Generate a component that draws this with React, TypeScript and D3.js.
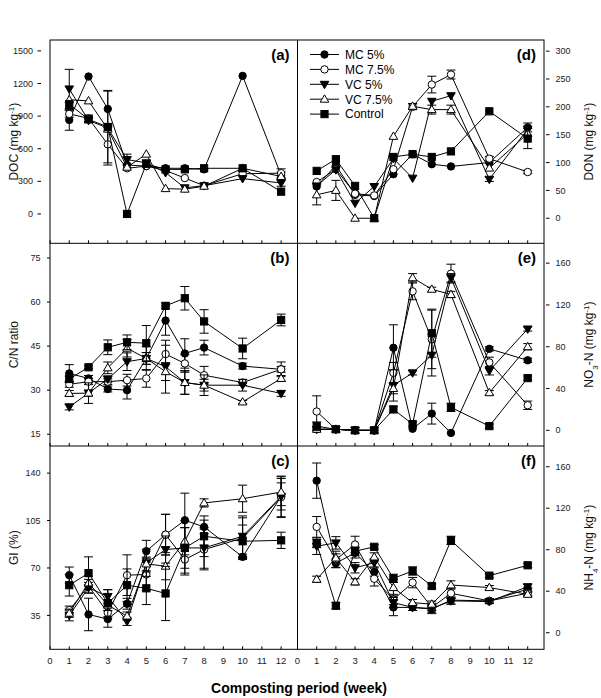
import React from 'react';
import * as d3 from 'd3';

// ---------- data ----------
const weeks = [1, 2, 3, 4, 5, 6, 7, 8, 10, 12];
const xTickValues = [0, 1, 2, 3, 4, 5, 6, 7, 8, 9, 10, 11, 12];
const seriesNames = ['MC 5%', 'MC 7.5%', 'VC 5%', 'VC 7.5%', 'Control'];
const markerTypes = ['circleFilled', 'circleOpen', 'triDownFilled', 'triUpOpen', 'squareFilled'];

// (a) DOC
const docMC5 = [865, 1264, 966, 450, 440, 420, 420, 410, 1270, 355];
const docMC75 = [920, 880, 640, 420, 440, 400, 330, 260, 370, 375];
const docVC5 = [1150, 860, 790, 500, 470, 380, 240, 260, 325, 285];
const docVC75 = [1050, 1040, 780, 430, 550, 233, 228, 255, 420, 345];
const docCtrl = [1010, 870, 800, 0, 460, 410, 410, 420, 420, 205];
const docMC5Err = [95, 0, 170, 0, 0, 0, 0, 0, 0, 30];
const docMC75Err = [30, 30, 190, 0, 0, 0, 0, 0, 0, 40];
const docVC5Err = [180, 0, 0, 50, 0, 0, 0, 0, 0, 30];
const docVC75Err = [0, 0, 0, 0, 0, 0, 0, 0, 0, 0];
const docCtrlErr = [0, 30, 330, 0, 0, 0, 0, 0, 0, 0];

// (b) C/N ratio
const cnMC5 = [35.7, 34, 30.4, 30, 40.8, 53.7, 42.5, 44.5, 38.2, 37.1];
const cnMC75 = [32, 32.9, 32.9, 33.4, 34, 42.3, 39.1, 35.1, 32.6, 37.1];
const cnVC5 = [24.3, 29, 33.8, 39.7, 40.8, 38, 32.6, 31.7, 31.7, 28.9];
const cnVC75 = [28.9, 29, 37.6, 44.3, 40.8, 36.3, 32.6, 31.7, 26, 34];
const cnCtrl = [33.8, 37.8, 44.6, 46.3, 46, 58.7, 61.3, 53.4, 44.2, 53.9];
const cnMC5Err = [3, 1, 1, 3, 2, 5, 5, 2.5, 1, 2.5];
const cnMC75Err = [1, 1, 1, 2, 3, 3, 3, 3, 1, 1];
const cnVC5Err = [1, 1, 1, 3, 4, 9, 4, 2, 2, 1];
const cnVC75Err = [1, 3.5, 2, 3, 2, 3, 4, 3.5, 0.5, 1];
const cnCtrlErr = [1, 0.5, 2.5, 2.5, 6, 1, 4, 4, 3.5, 2];

// (c) GI
const giMC5 = [64.7, 35.7, 32.3, 43.6, 82.4, 94.6, 105.2, 100.3, 78.2, 122.8];
const giMC75 = [38.9, 56.6, 37, 64.7, 65.2, 94.6, 76.2, 83.6, 92, 122.3];
const giVC5 = [35, 55.4, 49, 30.6, 73.8, 83.6, 84.8, 84.8, 93.4, 122.8];
const giVC75 = [36.6, 59, 42.6, 34.5, 73, 71.3, 89.7, 118, 121.1, 126];
const giCtrl = [57.3, 66.2, 44, 57.3, 55, 51.2, 84.8, 93.4, 89.7, 90.4];
const giMC5Err = [6, 12, 6, 4, 8, 15, 20, 5, 2, 15];
const giMC75Err = [3, 5, 4, 15, 12, 15, 10, 15, 15, 15];
const giVC5Err = [4, 4, 5, 3, 10, 10, 15, 15, 15, 10];
const giVC75Err = [3, 5, 4, 3, 5, 10, 10, 3, 10, 10];
const giCtrlErr = [8, 12, 10, 12, 12, 20, 20, 15, 12, 6];

// (d) DON
const donMC5 = [57, 95, 42, 40, 79, 115, 97, 93, 100, 163];
const donMC75 = [65, 88, 44, 41, 88, 200, 240, 258, 107, 83];
const donVC5 = [58, 87, 27, 57, 107, 72, 210, 220, 70, 160];
const donVC75 = [42, 50, 0, 0, 147, 201, 195, 195, 90, 152];
const donCtrl = [85, 106, 58, 0, 110, 115, 110, 120, 192, 143];
const donMC5Err = [0, 0, 0, 0, 0, 0, 0, 0, 0, 8];
const donMC75Err = [0, 0, 0, 0, 0, 5, 15, 8, 4, 3];
const donVC5Err = [0, 0, 0, 0, 0, 0, 0, 0, 4, 0];
const donVC75Err = [18, 18, 0, 0, 0, 5, 8, 8, 0, 0];
const donCtrlErr = [0, 0, 0, 0, 0, 0, 0, 0, 0, 18];

// (e) NO3-N
const no3MC5 = [1, 1, 0, 0, 79, 1.5, 16, -2.5, 78, 67];
const no3MC75 = [18, 1, 0, 0, 55, 133, 87, 150, 65, 24];
const no3VC5 = [1, 1, 0, 0, 43, 55, 72, 146, 57, 97];
const no3VC75 = [1, 1, 0, 0, 40, 146, 135, 130, 36, 80];
const no3Ctrl = [4, 1, 0, 0, 20, 6, 93, 22, 4, 50];
const no3MC5Err = [0, 0, 0, 0, 22, 0, 10, 0, 2, 2];
const no3MC75Err = [15, 0, 0, 0, 10, 8, 28, 9, 5, 4];
const no3VC5Err = [0, 0, 0, 0, 15, 2, 20, 4, 4, 2];
const no3VC75Err = [0, 0, 0, 0, 5, 4, 2, 3, 2, 3];
const no3CtrlErr = [4, 0, 0, 0, 3, 2, 23, 4, 2, 2];

// (f) NH4-N
const nh4MC5 = [146.6, 67, 77, 58.5, 24.4, 24.4, 22.7, 31.4, 30.7, 42];
const nh4MC75 = [102, 70.6, 85, 52, 32, 48.3, 24.4, 38, 30.7, 38];
const nh4VC5 = [83.4, 86.6, 62.6, 67.4, 29, 24.4, 23.4, 30.7, 30, 44.4];
const nh4VC75 = [51.5, 72, 49, 73, 43.5, 29, 27.5, 46, 43.5, 37];
const nh4Ctrl = [86, 26, 78.6, 82.8, 52.4, 59.5, 45, 89, 55, 65];
const nh4MC5Err = [17, 4, 5, 4, 8, 3, 3, 4, 2, 2];
const nh4MC75Err = [10, 8, 8, 7, 5, 5, 3, 5, 2, 2];
const nh4VC5Err = [8, 6, 5, 4, 5, 3, 5, 3, 2, 2];
const nh4VC75Err = [3, 4, 3, 4, 8, 3, 3, 4, 2, 2];
const nh4CtrlErr = [4, 3, 4, 2, 4, 4, 2, 4, 2, 2];

// ---------- layout ----------
const W = 601;
const H = 698;
const xLeft = 50;
const xMid = 297.5;
const xRight = 544;
const rowEdges = [40, 243.3, 446, 649.3];
const xMaxDomain = 12.85;

type Panel = {
  id: string;
  side: 'left' | 'right';
  row: number;
  domain: [number, number];
  ticks: number[];
  values: number[][];
  errors: number[][];
  title: React.ReactNode;
  labelEnd?: number;
  tickFrom?: number;
  tickTo?: number;
};

const sup = (t: string) => (
  <tspan baselineShift="super" fontSize="8">{t}</tspan>
);
const sub = (t: string) => (
  <tspan baselineShift="sub" fontSize="8">{t}</tspan>
);

const panels: Panel[] = [
  {
    id: '(a)', side: 'left', row: 0, domain: [-270, 1600],
    ticks: [0, 300, 600, 900, 1200, 1500],
    values: [docMC5, docMC75, docVC5, docVC75, docCtrl],
    errors: [docMC5Err, docMC75Err, docVC5Err, docVC75Err, docCtrlErr],
    title: <>DOC (mg kg{sup('-1')})</>,
    labelEnd: 33, tickFrom: 37.5, tickTo: 41,
  },
  {
    id: '(b)', side: 'left', row: 1, domain: [11, 80],
    ticks: [15, 30, 45, 60, 75],
    values: [cnMC5, cnMC75, cnVC5, cnVC75, cnCtrl],
    errors: [cnMC5Err, cnMC75Err, cnVC5Err, cnVC75Err, cnCtrlErr],
    title: <>C/N ratio</>,
  },
  {
    id: '(c)', side: 'left', row: 2, domain: [10, 160],
    ticks: [35, 70, 105, 140],
    values: [giMC5, giMC75, giVC5, giVC75, giCtrl],
    errors: [giMC5Err, giMC75Err, giVC5Err, giVC75Err, giCtrlErr],
    title: <>GI (%)</>,
  },
  {
    id: '(d)', side: 'right', row: 0, domain: [-45, 320],
    ticks: [0, 50, 100, 150, 200, 250, 300],
    values: [donMC5, donMC75, donVC5, donVC75, donCtrl],
    errors: [donMC5Err, donMC75Err, donVC5Err, donVC75Err, donCtrlErr],
    title: <>DON (mg kg{sup('-1')})</>,
  },
  {
    id: '(e)', side: 'right', row: 1, domain: [-15, 179],
    ticks: [0, 40, 80, 120, 160],
    values: [no3MC5, no3MC75, no3VC5, no3VC75, no3Ctrl],
    errors: [no3MC5Err, no3MC75Err, no3VC5Err, no3VC75Err, no3CtrlErr],
    title: <>NO{sub('3')}-N (mg kg{sup('-1')})</>,
  },
  {
    id: '(f)', side: 'right', row: 2, domain: [-16, 180],
    ticks: [0, 40, 80, 120, 160],
    values: [nh4MC5, nh4MC75, nh4VC5, nh4VC75, nh4Ctrl],
    errors: [nh4MC5Err, nh4MC75Err, nh4VC5Err, nh4VC75Err, nh4CtrlErr],
    title: <>NH{sub('4')}-N (mg kg{sup('-1')})</>,
  },
];

const FONT = 'Arial, "Liberation Sans", Helvetica, sans-serif';

function Marker({ type, x, y }: { type: string; x: number; y: number }) {
  const sw = 1;
  switch (type) {
    case 'circleFilled':
      return <circle cx={x} cy={y} r={3.7} fill="#000" stroke="#000" strokeWidth={sw} />;
    case 'circleOpen':
      return <circle cx={x} cy={y} r={3.7} fill="#fff" stroke="#000" strokeWidth={sw} />;
    case 'triDownFilled':
      return (
        <path
          d={`M${x - 4.3},${y - 3} L${x + 4.3},${y - 3} L${x},${y + 4.4} Z`}
          fill="#000" stroke="#000" strokeWidth={sw}
        />
      );
    case 'triUpOpen':
      return (
        <path
          d={`M${x - 4.3},${y + 3} L${x + 4.3},${y + 3} L${x},${y - 4.4} Z`}
          fill="#fff" stroke="#000" strokeWidth={sw}
        />
      );
    default:
      return <rect x={x - 3.6} y={y - 3.6} width={7.2} height={7.2} fill="#000" stroke="#000" strokeWidth={sw} />;
  }
}

function PanelView({ p }: { p: Panel }) {
  const x0 = p.side === 'left' ? xLeft : xMid;
  const x1 = p.side === 'left' ? xMid : xRight;
  const y0 = rowEdges[p.row];
  const y1 = rowEdges[p.row + 1];
  const xs = d3.scaleLinear().domain([0, xMaxDomain]).range([x0, x1]);
  const ys = d3.scaleLinear().domain(p.domain).range([y1, y0]);
  const line = d3
    .line<number>()
    .x((_, i) => xs(weeks[i]))
    .y((d) => ys(d));

  const isLeft = p.side === 'left';
  const labelEnd = p.labelEnd ?? 40.5;
  const tickFrom = p.tickFrom ?? 47;
  const tickTo = p.tickTo ?? 50;
  const midY = (y0 + y1) / 2;

  return (
    <g>
      {xTickValues.map((t) => (
        <line key={`xt${t}`} x1={xs(t)} x2={xs(t)} y1={y1} y2={y1 - 3} stroke="#000" strokeWidth={1} />
      ))}
      {p.ticks.map((t) => (
        <g key={`yt${t}`}>
          {isLeft ? (
            <>
              <line x1={tickFrom} x2={tickTo} y1={ys(t)} y2={ys(t)} stroke="#000" strokeWidth={1} />
              <text x={labelEnd} y={ys(t)} dy="0.35em" textAnchor="end" fontSize={9} fontFamily={FONT} fill="#222">
                {t}
              </text>
            </>
          ) : (
            <>
              <line x1={xRight + 2} x2={xRight + 5.5} y1={ys(t)} y2={ys(t)} stroke="#000" strokeWidth={1} />
              <text x={xRight + 11.5} y={ys(t)} dy="0.35em" textAnchor="start" fontSize={9} fontFamily={FONT} fill="#222">
                {t}
              </text>
            </>
          )}
        </g>
      ))}
      <text
        transform={`translate(${isLeft ? 18 : 593},${midY}) rotate(-90)`}
        textAnchor="middle"
        fontSize={12}
        fontFamily={FONT}
        fill="#111"
      >
        {p.title}
      </text>
      {p.values.map((vals, si) => (
        <g key={`s${si}`}>
          <path d={line(vals) ?? ''} fill="none" stroke="#000" strokeWidth={1} />
          {vals.map((v, i) =>
            p.errors[si][i] > 0 ? (
              <g key={`e${i}`} stroke="#000" strokeWidth={1}>
                <line x1={xs(weeks[i])} x2={xs(weeks[i])} y1={ys(v - p.errors[si][i])} y2={ys(v + p.errors[si][i])} />
                <line x1={xs(weeks[i]) - 4.5} x2={xs(weeks[i]) + 4.5} y1={ys(v + p.errors[si][i])} y2={ys(v + p.errors[si][i])} />
                <line x1={xs(weeks[i]) - 4.5} x2={xs(weeks[i]) + 4.5} y1={ys(v - p.errors[si][i])} y2={ys(v - p.errors[si][i])} />
              </g>
            ) : null
          )}
          {vals.map((v, i) => (
            <Marker key={`m${i}`} type={markerTypes[si]} x={xs(weeks[i])} y={ys(v)} />
          ))}
        </g>
      ))}
      <text x={x1 - 8} y={y0 + 20} textAnchor="end" fontSize={15} fontWeight="bold" fontFamily={FONT} fill="#000">
        {p.id}
      </text>
    </g>
  );
}

function Legend() {
  const lx0 = 310;
  const lx1 = 339;
  const ly0 = 54.5;
  const step = 14.9;
  return (
    <g>
      {seriesNames.map((name, i) => {
        const y = ly0 + i * step;
        return (
          <g key={name}>
            <line x1={lx0} x2={lx1} y1={y} y2={y} stroke="#000" strokeWidth={1} />
            <Marker type={markerTypes[i]} x={(lx0 + lx1) / 2} y={y} />
            <text x={345} y={y} dy="0.36em" fontSize={12} fontFamily={FONT} fill="#000">
              {name}
            </text>
          </g>
        );
      })}
    </g>
  );
}

export default function App() {
  const xsL = d3.scaleLinear().domain([0, xMaxDomain]).range([xLeft, xMid]);
  const xsR = d3.scaleLinear().domain([0, xMaxDomain]).range([xMid, xRight]);
  return (
    <svg width={W} height={H} style={{ position: 'absolute', left: 0, top: 0, background: '#fff' }}>
      <rect x={0} y={0} width={W} height={H} fill="#fff" />
      {panels.map((p) => (
        <PanelView key={p.id} p={p} />
      ))}
      <g stroke="#000" strokeWidth={1} fill="none">
        <rect x={xLeft} y={rowEdges[0]} width={xRight - xLeft} height={rowEdges[3] - rowEdges[0]} />
        <line x1={xMid} x2={xMid} y1={rowEdges[0]} y2={rowEdges[3]} />
        <line x1={xLeft} x2={xRight} y1={rowEdges[1]} y2={rowEdges[1]} />
        <line x1={xLeft} x2={xRight} y1={rowEdges[2]} y2={rowEdges[2]} />
      </g>
      <Legend />
      {xTickValues.map((t) => (
        <g key={`xl${t}`}>
          <text x={xsL(t)} y={664} textAnchor="middle" fontSize={9.5} fontFamily={FONT} fill="#222">{t}</text>
          <text x={xsR(t)} y={664} textAnchor="middle" fontSize={9.5} fontFamily={FONT} fill="#222">{t}</text>
        </g>
      ))}
      <text x={299} y={693} textAnchor="middle" fontSize={14} fontWeight="bold" fontFamily={FONT} fill="#000">
        Composting period (week)
      </text>
    </svg>
  );
}
